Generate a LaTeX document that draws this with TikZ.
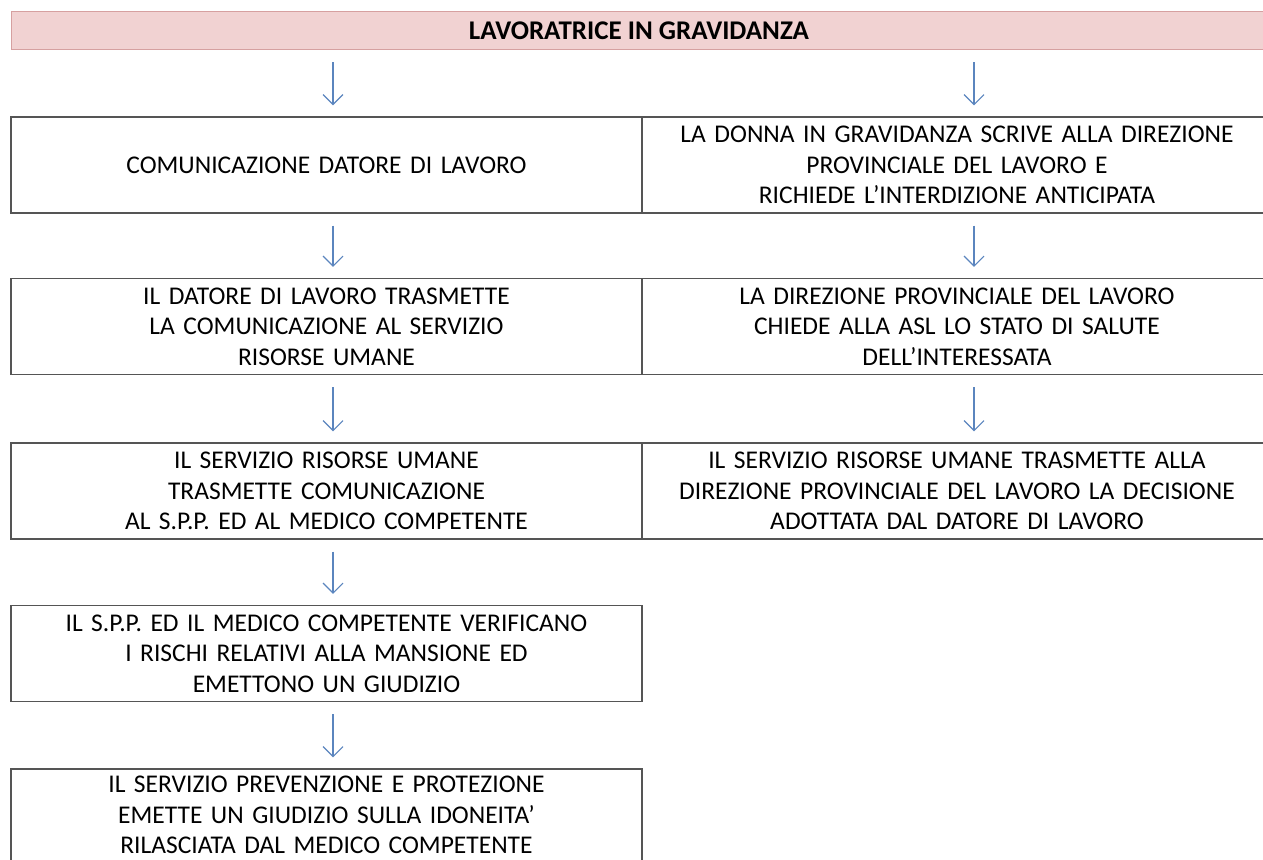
\documentclass[tikz,border=0pt]{standalone}
\usepackage{fontspec}
\setmainfont{Carlito}
\usetikzlibrary{arrows.meta}
\definecolor{boxline}{RGB}{85,85,85}
\definecolor{headfill}{RGB}{241,210,210}
\definecolor{headline}{RGB}{214,160,160}
\definecolor{arrblue}{RGB}{91,133,190}
\tikzset{
  cell/.style={draw=boxline, line width=1.4pt, rectangle, inner sep=0pt,
    minimum height=96pt, align=center, font=\fontsize{25.5}{30.5}\selectfont},
  lcell/.style={cell, minimum width=631pt, text width=625pt},
  rcell/.style={cell, minimum width=630pt, text width=625pt},
  head/.style={draw=headline, fill=headfill, line width=1pt, rectangle, inner sep=0pt,
    minimum width=1261pt, minimum height=38pt, font=\fontsize{27}{29}\selectfont\bfseries},
  flow/.style={draw=arrblue, line width=1.1pt, -{Straight Barb[length=10pt,width=20pt]},
    shorten <=12pt, shorten >=11pt}
}
\begin{document}
\begin{tikzpicture}[x=1pt,y=-1pt]
\useasboundingbox (0,0) rectangle (1263,859);
\clip (0,0) rectangle (1263,859);
\node[head] (head) at (641.5,31) {\hspace*{-5pt}LAVORATRICE IN GRAVIDANZA};
\node[lcell] (l1) at (326.5,165) {COMUNICAZIONE DATORE DI LAVORO};
\node[rcell] (r1) at (957,165) {LA DONNA IN GRAVIDANZA SCRIVE ALLA DIREZIONE\\PROVINCIALE DEL LAVORO E\\RICHIEDE L’INTERDIZIONE ANTICIPATA};
\node[lcell] (l2) at (326.5,326.5) {IL DATORE DI LAVORO TRASMETTE\\LA COMUNICAZIONE AL SERVIZIO\\RISORSE UMANE};
\node[rcell] (r2) at (957,326.5) {LA DIREZIONE PROVINCIALE DEL LAVORO\\CHIEDE ALLA ASL LO STATO DI SALUTE\\DELL’INTERESSATA};
\node[lcell] (l3) at (326.5,491) {IL SERVIZIO RISORSE UMANE\\TRASMETTE COMUNICAZIONE\\AL S.P.P. ED AL MEDICO COMPETENTE};
\node[rcell] (r3) at (957,491) {IL SERVIZIO RISORSE UMANE TRASMETTE ALLA\\DIREZIONE PROVINCIALE DEL LAVORO LA DECISIONE\\ADOTTATA DAL DATORE DI LAVORO};
\node[lcell] (l4) at (326.5,653.5) {IL S.P.P. ED IL MEDICO COMPETENTE VERIFICANO\\I RISCHI RELATIVI ALLA MANSIONE ED\\EMETTONO UN GIUDIZIO};
\node[lcell, minimum height=92pt] (l5) at (326.5,815) {IL SERVIZIO PREVENZIONE E PROTEZIONE\\EMETTE UN GIUDIZIO SULLA IDONEITA’\\RILASCIATA DAL MEDICO COMPETENTE};
\draw[flow] ([xshift=6.5pt]l1.north |- head.south) -- ([xshift=6.5pt]l1.north);
\draw[flow] ([xshift=17pt]r1.north |- head.south) -- ([xshift=17pt]r1.north);
\draw[flow] ([xshift=6.5pt]l1.south) -- ([xshift=6.5pt]l2.north);
\draw[flow] ([xshift=17pt]r1.south) -- ([xshift=17pt]r2.north);
\draw[flow] ([xshift=6.5pt]l2.south) -- ([xshift=6.5pt]l3.north);
\draw[flow] ([xshift=17pt]r2.south) -- ([xshift=17pt]r3.north);
\draw[flow] ([xshift=6.5pt]l3.south) -- ([xshift=6.5pt]l4.north);
\draw[flow] ([xshift=6.5pt]l4.south) -- ([xshift=6.5pt]l5.north);
\end{tikzpicture}
\end{document}
